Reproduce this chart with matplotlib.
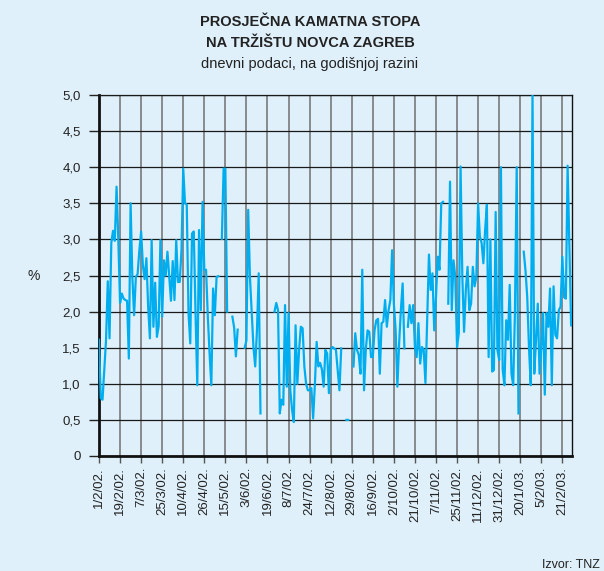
import numpy as np
import matplotlib.pyplot as plt

plt.rcParams['font.family'] = ['Liberation Sans', 'DejaVu Sans']

nan = np.nan

# tick labels, one every 12 working days
tick_labels = ['1/2/02.', '19/2/02.', '7/3/02.', '25/3/02.', '10/4/02.', '26/4/02.',
               '15/5/02.', '3/6/02.', '19/6/02.', '8/7/02.', '24/7/02.', '12/8/02.',
               '29/8/02.', '16/9/02.', '2/10/02.', '21/10/02.', '7/11/02.', '25/11/02.',
               '11/12/02.', '31/12/02.', '20/1/03.', '5/2/03.', '21/2/03.']

# daily rates, in blocks of 12 working days (one block per tick interval)
rates_feb = [1.61, 0.80, 0.78, 1.20, 1.60, 2.42, 1.63, 2.95, 3.12, 2.98, 3.73, 3.00]
rates_feb2 = [2.12, 2.25, 2.18, 2.16, 2.15, 1.35, 3.50, 2.48, 1.95, 2.48, 2.52, 2.85]
rates_mar = [3.11, 2.64, 2.45, 2.74, 2.07, 1.63, 2.99, 1.79, 2.40, 1.65, 1.80, 2.99]
rates_mar2 = [1.93, 2.71, 2.50, 2.83, 2.50, 2.15, 2.70, 2.16, 2.99, 2.41, 2.41, 2.85]
rates_apr = [3.98, 3.50, 3.48, 1.98, 1.56, 3.08, 3.11, 1.98, 0.98, 3.13, 2.02, 3.52]
rates_apr2 = [2.58, 2.58, 1.93, 1.42, 0.98, 2.32, 1.95, 2.48, 2.49, nan, 3.01, 3.98]
rates_may = [3.98, 2.00, nan, nan, 1.93, 1.78, 1.38, 1.75, nan, nan, nan, 1.50]
rates_jun = [1.60, 3.41, 2.48, 2.00, 1.51, 1.24, 1.74, 2.53, 0.59, nan, nan, nan]
rates_jun2 = [nan, nan, nan, nan, 2.00, 2.12, 2.02, 0.59, 0.78, 0.71, 2.09, 0.96]
rates_jul = [1.98, 0.91, 0.64, 0.47, 1.81, 1.00, 1.47, 1.79, 1.77, 1.24, 1.00, 0.91]
rates_jul2 = [0.91, 0.94, 0.52, 0.99, 1.58, 1.24, 1.29, 1.20, 0.96, 1.47, 1.42, 0.87]
rates_aug = [1.47, 1.51, 1.49, 1.47, 1.19, 0.91, 1.49, nan, nan, 0.50, 0.50, nan]
rates_aug2 = [nan, 1.24, 1.70, 1.47, 1.40, 1.14, 2.58, 0.91, 1.47, 1.74, 1.72, 1.37]
rates_sep = [1.37, 1.74, 1.88, 1.90, 1.14, 1.84, 1.86, 2.16, 1.79, 2.02, 2.16, 2.85]
rates_oct = [2.11, 1.75, 0.96, 1.56, 2.02, 2.39, 1.49, nan, 1.79, 2.09, 1.84, 2.09]
rates_oct2 = [1.51, 1.37, 1.84, 1.28, 1.51, 1.47, 1.01, 1.90, 2.79, 2.30, 2.53, 1.74]
rates_nov = [2.20, 2.76, 2.58, 3.50, 3.52, nan, nan, 2.11, 3.80, 2.02, 2.71, 2.48]
rates_nov2 = [1.51, 1.70, 4.01, 2.50, 1.72, 2.30, 2.62, 2.02, 2.11, 2.62, 2.35, 2.48]
rates_dec = [3.50, 3.04, 2.95, 2.67, 3.13, 3.48, 1.37, 3.00, 1.17, 1.19, 3.38, 1.47]
rates_dec2 = [1.33, 4.00, 1.20, 0.98, 1.88, 1.61, 2.37, 1.14, 0.98, 2.00, 4.00, 0.59]
rates_jan = [nan, nan, 2.83, 2.57, 2.20, 1.50, 0.98, 5.00, 1.14, 1.60, 2.11, 1.14]
rates_feb03 = [1.50, 1.98, 0.85, 1.98, 1.79, 2.32, 0.98, 2.35, 1.68, 1.63, 2.02, 2.07]
rates_end = [2.76, 2.20, 2.18, 4.02, 2.90, 1.81]

rates = (rates_feb + rates_feb2 + rates_mar + rates_mar2 + rates_apr + rates_apr2 +
         rates_may + rates_jun + rates_jun2 + rates_jul + rates_jul2 + rates_aug +
         rates_aug2 + rates_sep + rates_oct + rates_oct2 + rates_nov + rates_nov2 +
         rates_dec + rates_dec2 + rates_jan + rates_feb03 + rates_end)
days = np.arange(len(rates))

bg = '#dff0fa'

fig = plt.figure(figsize=(6.04, 5.71), dpi=100, facecolor=bg)
ax = fig.add_axes([99 / 604, 1 - 456 / 571, 473 / 604, 361 / 571])
ax.set_facecolor(bg)

ax.plot(days, rates, color='#00aeef', lw=1.6, zorder=3)

ax.set_xlim(0, len(rates) - 0.5)
ax.set_ylim(0, 5)
ax.set_xticks(np.arange(len(tick_labels)) * 12)
ax.set_xticklabels(tick_labels, rotation=90, fontsize=9.5, color='#222222')
yt = np.arange(0, 5.01, 0.5)
ax.set_yticks(yt)
ax.set_yticklabels(['0'] + [f'{v:.1f}'.replace('.', ',') for v in yt[1:]],
                   fontsize=9.5, color='#222222')

ax.tick_params(axis='y', length=7, width=1, color='#222222', pad=6)
ax.tick_params(axis='x', length=5, width=1, color='#555555', pad=3)

ax.grid(axis='y', color='#1a1a1a', lw=0.9, zorder=1)
ax.grid(axis='x', color='#707070', lw=1.1, zorder=1)

for s in ['left', 'bottom']:
    ax.spines[s].set_linewidth(2)
    ax.spines[s].set_color('#111111')
ax.spines['right'].set_linewidth(1)
ax.spines['right'].set_color('#111111')
ax.spines['top'].set_linewidth(0.9)
ax.spines['top'].set_color('#1a1a1a')

fig.text(27 / 604, 1 - 276 / 571, '%', fontsize=10, color='#222222', va='center')

fig.text(310 / 604, 1 - 22 / 571, 'PROSJEČNA KAMATNA STOPA', fontsize=10.5,
         fontweight='bold', color='#222222', ha='center', va='center')
fig.text(310 / 604, 1 - 43 / 571, 'NA TRŽIŠTU NOVCA ZAGREB', fontsize=10.5,
         fontweight='bold', color='#222222', ha='center', va='center')
fig.text(310 / 604, 1 - 64 / 571, 'dnevni podaci, na godišnjoj razini', fontsize=10.5,
         color='#222222', ha='center', va='center')

fig.text(600 / 604, 1 - 565 / 571, 'Izvor: TNZ', fontsize=9, color='#222222',
         ha='right', va='center')

plt.savefig('out.png', dpi=100, facecolor=bg)
